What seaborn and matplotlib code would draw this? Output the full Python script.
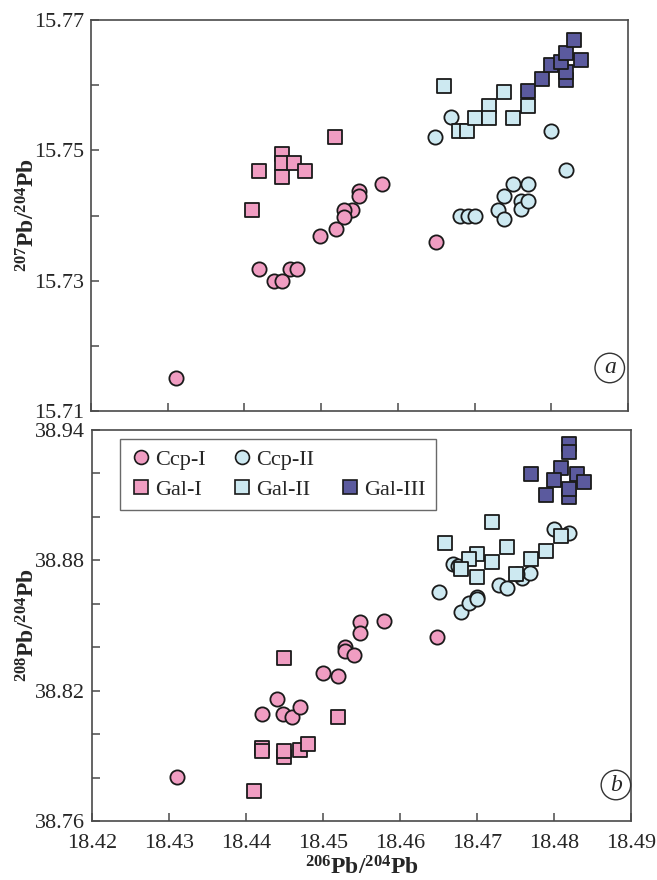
import numpy as np
import pandas as pd
import matplotlib
matplotlib.use("Agg")
import matplotlib.pyplot as plt
from matplotlib.lines import Line2D
import seaborn as sns

# ---- 206Pb/204Pb vs 207Pb/204Pb (panel a) ----
ccp1_x_a = [18.4311, 18.4579, 18.4549, 18.4549, 18.4540, 18.4530, 18.4530, 18.4519,
            18.4499, 18.4419, 18.4460, 18.4469, 18.4439, 18.4449, 18.4650]
ccp1_y_a = [15.7151, 15.7449, 15.7438, 15.7430, 15.7409, 15.7409, 15.7397, 15.7379,
            15.7369, 15.7318, 15.7318, 15.7318, 15.7299, 15.7299, 15.7360]

gal1_x_a = [18.4419, 18.4449, 18.4449, 18.4449, 18.4465, 18.4479, 18.4410, 18.4518]
gal1_y_a = [15.7469, 15.7494, 15.7480, 15.7459, 15.7480, 15.7469, 15.7409, 15.7521]

ccp2_x_a = [18.4648, 18.4669, 18.4800, 18.4819, 18.4681, 18.4691, 18.4701, 18.4730,
            18.4739, 18.4739, 18.4750, 18.4760, 18.4760, 18.4769, 18.4769]
ccp2_y_a = [15.7520, 15.7551, 15.7530, 15.7470, 15.7400, 15.7400, 15.7400, 15.7409,
            15.7430, 15.7395, 15.7449, 15.7422, 15.7410, 15.7449, 15.7422]

gal2_x_a = [18.4660, 18.4680, 18.4690, 18.4700, 18.4719, 18.4719, 18.4739, 18.4750, 18.4769]
gal2_y_a = [15.7598, 15.7529, 15.7529, 15.7550, 15.7568, 15.7550, 15.7590, 15.7550, 15.7568]

gal3_x_a = [18.4769, 18.4788, 18.4800, 18.4819, 18.4819, 18.4813, 18.4819, 18.4839, 18.4830]
gal3_y_a = [15.7591, 15.7609, 15.7631, 15.7608, 15.7620, 15.7636, 15.7650, 15.7638, 15.7670]

# ---- 206Pb/204Pb vs 208Pb/204Pb (panel b) ----
ccp1_x_b = [18.4310, 18.4421, 18.4440, 18.4448, 18.4460, 18.4470, 18.4500, 18.4520,
            18.4529, 18.4529, 18.4540, 18.4548, 18.4548, 18.4579, 18.4648]
ccp1_y_b = [38.7801, 38.8091, 38.8161, 38.8091, 38.8080, 38.8125, 38.8281, 38.8267,
            38.8400, 38.8383, 38.8363, 38.8516, 38.8464, 38.8521, 38.8447]

gal1_x_b = [18.4449, 18.4520, 18.4421, 18.4421, 18.4449, 18.4449, 18.4470, 18.4480, 18.4410]
gal1_y_b = [38.8349, 38.8080, 38.7936, 38.7922, 38.7896, 38.7923, 38.7927, 38.7954, 38.7739]

ccp2_x_b = [18.4651, 18.4679, 18.4690, 18.4700, 18.4700, 18.4729, 18.4739, 18.4759,
            18.4769, 18.4752, 18.4669, 18.4675, 18.4800, 18.4820]
ccp2_y_b = [38.8656, 38.8564, 38.8605, 38.8633, 38.8622, 38.8686, 38.8674, 38.8720,
            38.8743, 38.8737, 38.8783, 38.8775, 38.8946, 38.8924]

gal2_x_b = [18.4720, 18.4659, 18.4700, 18.4690, 18.4679, 18.4720, 18.4700, 18.4739,
            18.4770, 18.4750, 18.4789, 18.4809]
gal2_y_b = [38.8976, 38.8880, 38.8829, 38.8805, 38.8761, 38.8791, 38.8725, 38.8861,
            38.8805, 38.8737, 38.8843, 38.8912]

gal3_x_b = [18.4819, 18.4819, 18.4770, 18.4809, 18.4830, 18.4839, 18.4800, 18.4819,
            18.4819, 18.4789]
gal3_y_b = [38.9336, 38.9297, 38.9196, 38.9224, 38.9196, 38.9162, 38.9170, 38.9090,
            38.9127, 38.9101]

groups = ["Ccp-I", "Gal-I", "Ccp-II", "Gal-II", "Gal-III"]
colors = {"Ccp-I": "#F09DC2", "Gal-I": "#F09DC2", "Ccp-II": "#CDE9F1",
          "Gal-II": "#CDE9F1", "Gal-III": "#5B5A9E"}
markers = {"Ccp-I": "o", "Gal-I": "s", "Ccp-II": "o", "Gal-II": "s", "Gal-III": "s"}

xticks = [18.42, 18.43, 18.44, 18.45, 18.46, 18.47, 18.48, 18.49]

sns.set_style("ticks")
plt.rcParams["font.family"] = ["Liberation Serif", "DejaVu Serif"]
plt.rcParams["mathtext.fontset"] = "custom"
plt.rcParams["mathtext.rm"] = "Liberation Serif"
plt.rcParams["mathtext.bf"] = "Liberation Serif:bold"
plt.rcParams["mathtext.it"] = "Liberation Serif:italic"

fig = plt.figure(figsize=(6.57, 8.80), dpi=100)
ax_a = fig.add_axes([91 / 657, 1 - 411 / 880, 537 / 657, 391 / 880])
ax_b = fig.add_axes([92 / 657, 1 - 821 / 880, 539 / 657, 391 / 880])

panel_a = {"Ccp-I": (ccp1_x_a, ccp1_y_a), "Gal-I": (gal1_x_a, gal1_y_a),
           "Ccp-II": (ccp2_x_a, ccp2_y_a), "Gal-II": (gal2_x_a, gal2_y_a),
           "Gal-III": (gal3_x_a, gal3_y_a)}
panel_b = {"Ccp-I": (ccp1_x_b, ccp1_y_b), "Gal-I": (gal1_x_b, gal1_y_b),
           "Ccp-II": (ccp2_x_b, ccp2_y_b), "Gal-II": (gal2_x_b, gal2_y_b),
           "Gal-III": (gal3_x_b, gal3_y_b)}

spine_col = "#4a4a4a"


def draw_panel(ax, data):
    for g in groups:
        xs, ys = data[g]
        df = pd.DataFrame({"x": xs, "y": ys})
        sns.scatterplot(data=df, x="x", y="y", ax=ax, marker=markers[g],
                        color=colors[g], edgecolor="#1a1a1a", linewidth=1.3,
                        s=105, legend=False, zorder=3)
    ax.set_xlim(18.42, 18.49)
    ax.set_xticks(xticks)
    ax.set_xlabel("")
    ax.set_ylabel("")
    for sp in ax.spines.values():
        sp.set_color(spine_col)
        sp.set_linewidth(1.2)
    ax.tick_params(direction="in", length=6, width=1.1, color=spine_col,
                   labelsize=16, pad=5)


draw_panel(ax_a, panel_a)
draw_panel(ax_b, panel_b)

# panel a axes
ax_a.set_ylim(15.71, 15.77)
ax_a.set_yticks(np.round(np.arange(15.71, 15.7701, 0.01), 2))
ax_a.set_yticklabels(["15.71", "", "15.73", "", "15.75", "", "15.77"])
ax_a.tick_params(axis="x", labelbottom=False)
ax_a.set_ylabel(r"$^{\mathbf{207}}$Pb/$^{\mathbf{204}}$Pb", fontsize=17,
                fontweight="bold")
ax_a.yaxis.set_label_coords(-0.095, 0.5)

# panel b axes
ax_b.set_ylim(38.76, 38.94)
ax_b.set_yticks(np.round(np.arange(38.76, 38.9401, 0.02), 2))
ax_b.set_yticklabels(["38.76", "", "", "38.82", "", "", "38.88", "", "", "38.94"])
ax_b.set_xticklabels([f"{v:.2f}" for v in xticks])
ax_b.tick_params(axis="x", pad=9)
ax_b.set_ylabel(r"$^{\mathbf{208}}$Pb/$^{\mathbf{204}}$Pb", fontsize=17,
                fontweight="bold")
ax_b.yaxis.set_label_coords(-0.0965, 0.5)
ax_b.set_xlabel(r"$^{\mathbf{206}}$Pb/$^{\mathbf{204}}$Pb", fontsize=17,
                fontweight="bold", labelpad=3)

# panel letters
circ = dict(boxstyle="circle,pad=0.18", fc="white", ec="#333333", lw=1.0)
ax_a.text(0.966, 0.11, "a", transform=ax_a.transAxes, style="italic",
          fontsize=17, ha="center", va="center", bbox=circ, zorder=5)
ax_b.text(0.972, 0.092, "b", transform=ax_b.transAxes, style="italic",
          fontsize=17, ha="center", va="center", bbox=circ, zorder=5)


# legend: column-wise fill, third column has an empty top slot
def handle(g):
    return Line2D([], [], linestyle="none", marker=markers[g], markersize=10,
                  markerfacecolor=colors[g], markeredgecolor="#1a1a1a",
                  markeredgewidth=1.2)


blank = Line2D([], [], linestyle="none", marker=None)
handles = [handle("Ccp-I"), handle("Gal-I"), handle("Ccp-II"), handle("Gal-II"),
           blank, handle("Gal-III")]
labels = ["Ccp-I", "Gal-I", "Ccp-II", "Gal-II", "", "Gal-III"]
leg = ax_b.legend(handles, labels, ncol=3, loc="upper left",
                  bbox_to_anchor=(0.052, 0.977), borderaxespad=0,
                  fontsize=16, frameon=True, fancybox=False,
                  handletextpad=0.15, columnspacing=1.1, handlelength=1.0,
                  labelspacing=0.45, borderpad=0.45)
leg.get_frame().set_edgecolor("#444444")
leg.get_frame().set_linewidth(1.0)

fig.savefig("out.png", dpi=100)
